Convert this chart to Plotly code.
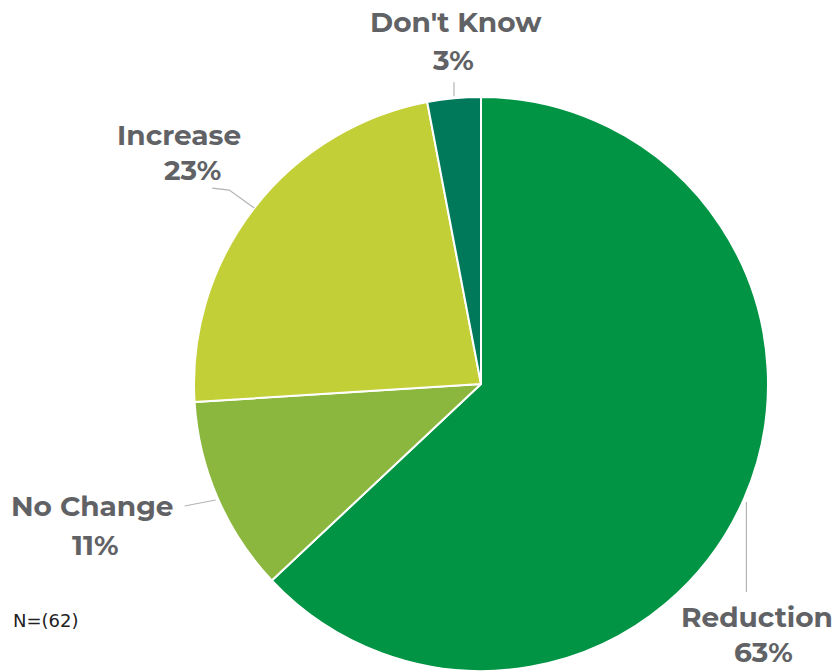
import math
import plotly.graph_objects as go

# Survey responses (share of respondents, %)
labels = ["Reduction", "No Change", "Increase", "Don't Know"]
values = [63, 11, 23, 3]
colors = ["#009444", "#8cb73f", "#c3cf37", "#00795b"]
note = "N=(62)"

W, H = 838, 671
CX, CY, R = 481, 384, 287  # pie centre and radius in pixels

# Leader-line bend points and label offsets (pixels, relative to the slice's edge midpoint)
leader = {
    "Reduction": dict(path=[(2, 4), (2, 94)], name=(13, 119), pct=(19, 154)),
    "No Change": dict(path=[(-2, 2), (-33, 8)], name=(-125, 8), pct=(-122, 47)),
    "Increase": dict(path=[(0, 0), (-25, -18), (-42, -20)], name=(-75, -73), pct=(-62, -38)),
    "Don't Know": dict(path=[(0, -2), (0, -16)], name=(2, -76), pct=(-1, -38)),
}


def px(x, y):
    return x / W, 1 - y / H


fig = go.Figure(
    go.Pie(
        labels=labels,
        values=values,
        marker=dict(colors=colors, line=dict(color="white", width=2)),
        sort=False,
        direction="clockwise",
        rotation=0,
        textinfo="none",
        hoverinfo="label+percent",
        showlegend=False,
        domain=dict(x=[(CX - R) / W, (CX + R) / W], y=[1 - (CY + R) / H, 1 - (CY - R) / H]),
    )
)

total = sum(values)
cum = 0
shapes = []
annotations = []
label_font = dict(family="Montserrat, 'Open Sans', Arial, sans-serif", size=28, color="#616265")
for lab, v in zip(labels, values):
    mid = (cum + v / 2) / total * 2 * math.pi
    cum += v
    ex = CX + R * math.sin(mid)
    ey = CY - R * math.cos(mid)
    spec = leader[lab]
    pts = [px(ex + dx, ey + dy) for dx, dy in spec["path"]]
    path = "M " + " L ".join(f"{x:.5f},{y:.5f}" for x, y in pts)
    shapes.append(dict(type="path", xref="paper", yref="paper", path=path,
                       line=dict(color="#b3b3b3", width=1.2)))
    pct = round(v / total * 100)
    for txt, off in ((lab, spec["name"]), (f"{pct}%", spec["pct"])):
        x, y = px(ex + off[0], ey + off[1])
        annotations.append(dict(x=x, y=y, xref="paper", yref="paper", text=f"<b>{txt}</b>",
                                showarrow=False, xanchor="center", yanchor="middle",
                                font=label_font))

annotations.append(dict(x=11 / W, y=1 - 620 / H, xref="paper", yref="paper", text=note,
                        showarrow=False, xanchor="left", yanchor="middle",
                        font=dict(family="DejaVu Sans, Verdana, sans-serif", size=18, color="#222222")))

fig.update_layout(
    width=W, height=H,
    margin=dict(l=0, r=0, t=0, b=0),
    paper_bgcolor="white", plot_bgcolor="white",
    shapes=shapes, annotations=annotations,
)

fig.write_html("out.html")
